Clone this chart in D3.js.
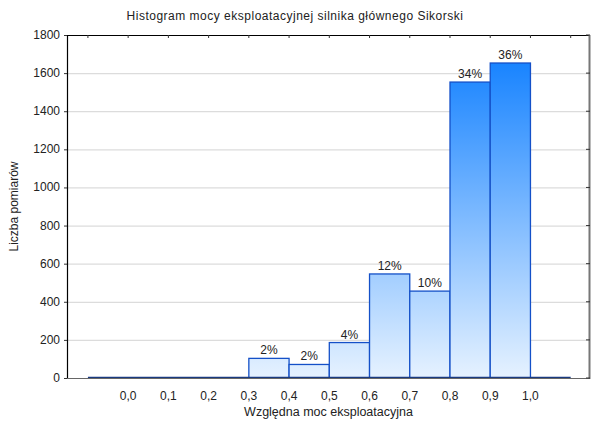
<!DOCTYPE html>
<html><head><meta charset="utf-8">
<script src="https://cdn.jsdelivr.net/npm/d3@7"></script>
<style>body{margin:0;background:#fff}svg{display:block;font-family:"Liberation Sans",Arial,sans-serif}</style>
</head><body><div id="chart"></div>
<script>
const binStarts = [-0.1,0.0,0.1,0.2,0.3,0.4,0.5,0.6,0.7,0.8,0.9,1.0];
const counts    = [0,0,0,0,103,71,186,546,456,1553,1653,0];
const pctLabels = ["","","","","2%","2%","4%","12%","10%","34%","36%",""];
const xTicks = [0.0,0.1,0.2,0.3,0.4,0.5,0.6,0.7,0.8,0.9,1.0];
const yTicks = [0,200,400,600,800,1000,1200,1400,1600,1800];
const binWidth = 0.1;
const title = "Histogram mocy eksploatacyjnej silnika głównego Sikorski";
const xTitle = "Względna moc eksploatacyjna";
const yTitle = "Liczba pomiarów";

const W=600,H=430;
const m={l:67,r:10,t:35,b:52};
const svg=d3.select("#chart").append("svg").attr("width",W).attr("height",H);
const x=d3.scaleLinear().domain([-0.152,1.148]).range([m.l,W-m.r]);
const y=d3.scaleLinear().domain([0,1800]).range([H-m.b,m.t]);
const x0=m.l,x1=W-m.r,y0=H-m.b,y1=m.t;

const defs=svg.append("defs");
const g=defs.append("linearGradient").attr("id","grad").attr("gradientUnits","userSpaceOnUse")
  .attr("x1",0).attr("x2",0).attr("y1",y(1653)).attr("y2",y(0));
g.append("stop").attr("offset","0%").attr("stop-color","#1984ff");
g.append("stop").attr("offset","100%").attr("stop-color","#e6f2ff");

// gridlines
svg.append("g").selectAll("line").data(yTicks.filter(d=>d>0&&d<1800)).join("line")
  .attr("x1",x0).attr("x2",x1).attr("y1",d=>y(d)+0.5).attr("y2",d=>y(d)+0.5)
  .attr("stroke","#dcdcdc").attr("stroke-width",1.2);

// bars
const bars=binStarts.map((s,i)=>({s,c:counts[i],p:pctLabels[i]}));
svg.append("g").selectAll("rect").data(bars.filter(d=>d.c>0)).join("rect")
  .attr("x",d=>x(d.s)).attr("width",d=>x(d.s+binWidth)-x(d.s))
  .attr("y",d=>y(d.c)).attr("height",d=>y(0)-y(d.c))
  .attr("fill","url(#grad)").attr("stroke","#1450c8").attr("stroke-width",1.3);
// zero bars as baseline segments
svg.append("line").attr("x1",x(binStarts[0])).attr("x2",x(binStarts[binStarts.length-1]+binWidth))
  .attr("y1",y0-0.5).attr("y2",y0-0.5).attr("stroke","#1a3a80").attr("stroke-width",1.5);

// labels
svg.append("g").selectAll("text").data(bars.filter(d=>d.p)).join("text")
  .attr("x",d=>x(d.s+binWidth/2)).attr("y",d=>y(d.c)-4)
  .attr("text-anchor","middle").attr("font-size",12).attr("fill","#222").text(d=>d.p);

// frame
svg.append("line").attr("x1",x0).attr("x2",x1).attr("y1",y1+0.5).attr("y2",y1+0.5).attr("stroke","#000").attr("stroke-width",1.2);
svg.append("line").attr("x1",x0+0.5).attr("x2",x0+0.5).attr("y1",y1).attr("y2",y0).attr("stroke","#000").attr("stroke-width",1.2);
svg.append("line").attr("x1",x1-0.5).attr("x2",x1-0.5).attr("y1",y1).attr("y2",y0+1).attr("stroke","#777").attr("stroke-width",2);
svg.append("line").attr("x1",x0).attr("x2",x1).attr("y1",y0+0.5).attr("y2",y0+0.5).attr("stroke","#666").attr("stroke-width",1.2);

// top/bottom inner ticks at bin edges
const edges=binStarts.concat([binStarts[binStarts.length-1]+binWidth]);
svg.append("g").selectAll("line").data(edges).join("line")
  .attr("x1",d=>x(d)).attr("x2",d=>x(d)).attr("y1",y1).attr("y2",y1+3).attr("stroke","#333");
svg.append("g").selectAll("line").data(yTicks).join("line")
  .attr("x1",x1-4).attr("x2",x1).attr("y1",d=>y(d)).attr("y2",d=>y(d)).attr("stroke","#333");
svg.append("g").selectAll("line").data(yTicks).join("line")
  .attr("x1",x0).attr("x2",x0-3).attr("y1",d=>y(d)+0.5).attr("y2",d=>y(d)+0.5).attr("stroke","#333");

// y tick labels
svg.append("g").selectAll("text").data(yTicks).join("text")
  .attr("x",x0-7).attr("y",d=>y(d)+4).attr("text-anchor","end").attr("font-size",12).attr("fill","#222")
  .text(d=>d);
// x tick labels
const fmt=d=>d3.format(".1f")(d).replace(".",",");
svg.append("g").selectAll("text").data(xTicks).join("text")
  .attr("x",d=>x(d)).attr("y",y0+22).attr("text-anchor","middle").attr("font-size",12).attr("fill","#222")
  .text(fmt);

svg.append("text").attr("x",295).attr("y",20).attr("text-anchor","middle").attr("font-size",12)
  .attr("letter-spacing",0.5).attr("fill","#222").text(title);
svg.append("text").attr("x",(x0+x1)/2).attr("y",y0+38).attr("text-anchor","middle").attr("font-size",12.5).attr("fill","#222").text(xTitle);
svg.append("text").attr("transform",`translate(18,${(y0+y1)/2}) rotate(-90)`).attr("text-anchor","middle").attr("font-size",12).attr("fill","#222").text(yTitle);
</script></body></html>
